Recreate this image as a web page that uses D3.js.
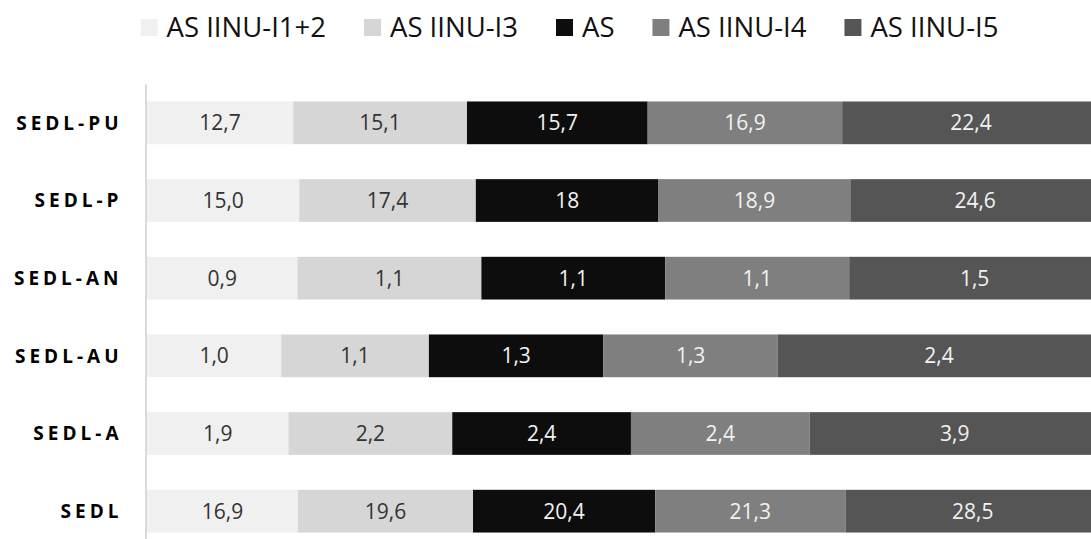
<!DOCTYPE html>
<html>
<head>
<meta charset="utf-8">
<script src="https://cdn.jsdelivr.net/npm/d3@7"></script>
<style>
  body { margin: 0; background: #fff; }
  svg { display: block; font-family: "Open Sans", sans-serif; }
</style>
</head>
<body>
<div id="chart"></div>
<script>
const categories = ['SEDL-PU', 'SEDL-P', 'SEDL-AN', 'SEDL-AU', 'SEDL-A', 'SEDL'];
const seriesNames = ['AS IINU-I1+2', 'AS IINU-I3', 'AS', 'AS IINU-I4', 'AS IINU-I5'];

const i12Values = [12.7, 15.0, 0.9, 1.0, 1.9, 16.9];
const i3Values  = [15.1, 17.4, 1.1, 1.1, 2.2, 19.6];
const asValues  = [15.7, 18, 1.1, 1.3, 2.4, 20.4];
const i4Values  = [16.9, 18.9, 1.1, 1.3, 2.4, 21.3];
const i5Values  = [22.4, 24.6, 1.5, 2.4, 3.9, 28.5];

// labels shown without a decimal in the source
const wholeLabels = [['SEDL-P', 'AS']];

const colors = ['#f0f0f0', '#d6d6d6', '#0d0d0d', '#7f7f7f', '#555555'];
const textColors = ['#333', '#333', '#f2f2f2', '#f2f2f2', '#f2f2f2'];

const allValues = [i12Values, i3Values, asValues, i4Values, i5Values];
const rows = categories.map((c, i) => {
  const row = {category: c};
  seriesNames.forEach((s, j) => { row[s] = allValues[j][i]; });
  return row;
});

const width = 1091;
const height = 539;
const margin = {top: 84, right: -9, bottom: -11, left: 147};

const svg = d3.select('#chart')
  .append('svg')
    .attr('width', width)
    .attr('height', height);

const stack = d3.stack()
  .keys(seriesNames)
  .offset(d3.stackOffsetExpand);
const stacked = stack(rows);

const x = d3.scaleLinear()
  .domain([0, 1])
  .range([margin.left, width - margin.right]);

const y = d3.scaleBand()
  .domain(categories)
  .range([margin.top, height - margin.bottom])
  .paddingInner(0.45)
  .paddingOuter(0.225);

// bars
const layers = svg.append('g')
  .selectAll('g')
  .data(stacked)
  .join('g')
    .attr('fill', (d, i) => colors[i]);

layers.selectAll('rect')
  .data(d => d)
  .join('rect')
    .attr('x', d => x(d[0]))
    .attr('y', d => y(d.data.category))
    .attr('width', d => x(d[1]) - x(d[0]))
    .attr('height', y.bandwidth());

// value labels
const fmt = (v, cat, key) => {
  const whole = wholeLabels.some(w => w[0] === cat && w[1] === key);
  return whole ? d3.format('d')(v) : d3.format('.1f')(v).replace('.', ',');
};

stacked.forEach((layer, i) => {
  svg.append('g')
    .selectAll('text')
    .data(layer)
    .join('text')
      .attr('x', d => (x(d[0]) + x(d[1])) / 2)
      .attr('y', d => y(d.data.category) + y.bandwidth() / 2)
      .attr('dy', '0.36em')
      .attr('text-anchor', 'middle')
      .style('font-size', '21px')
      .style('fill', textColors[i])
      .text(d => fmt(d.data[layer.key], d.data.category, layer.key));
});

// y axis
const yAxis = svg.append('g')
  .attr('transform', 'translate(' + (margin.left - 1.5) + ',0)')
  .call(d3.axisLeft(y).tickSize(0).tickPadding(23));

yAxis.select('.domain')
  .attr('stroke', '#d9d9d9')
  .attr('stroke-width', 2);

yAxis.selectAll('text')
  .attr('dy', '0.36em')
  .style('font-family', '"Open Sans", sans-serif')
  .style('font-size', '19px')
  .style('font-weight', 'bold')
  .style('letter-spacing', '4px')
  .style('fill', '#000');

// legend
const legend = svg.append('g');
const items = legend.selectAll('g')
  .data(seriesNames)
  .join('g');

items.append('rect')
  .attr('width', 17)
  .attr('height', 17)
  .attr('y', 19)
  .attr('fill', (d, i) => colors[i]);

items.append('text')
  .attr('x', 26)
  .attr('y', 27.5)
  .attr('dy', '0.36em')
  .style('font-size', '27.5px')
  .style('fill', '#111')
  .text(d => d);

let offset = 0;
items.each(function() {
  const w = d3.select(this).select('text').node().getComputedTextLength();
  d3.select(this).attr('transform', 'translate(' + offset + ',0)');
  offset += 26 + w + 38;
});
const legendWidth = offset - 38;
legend.attr('transform', 'translate(' + (569.5 - legendWidth / 2) + ',0)');
</script>
</body>
</html>
